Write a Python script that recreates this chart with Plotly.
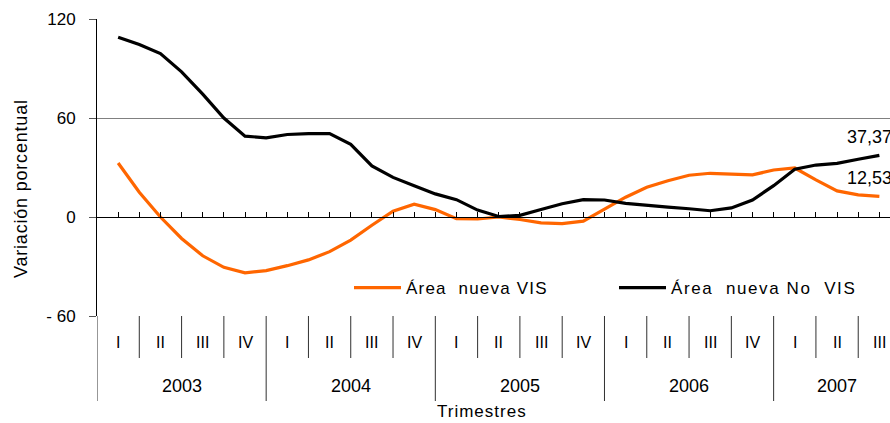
import numpy as np
import plotly.graph_objects as go

# ---- data (half-quarter steps, 2003-I .. 2007-III) ----
years = ["2003", "2004", "2005", "2006", "2007"]
quarters = ["I", "II", "III", "IV"] * 4 + ["I", "II", "III"]
x_pos = [i * 0.5 for i in range(37)]

vis = [32.7, 15.0, 0.0, -13.0, -23.5, -30.5, -33.8, -32.5, -29.5, -26.0,
       -21.0, -14.0, -5.0, 3.5, 7.8, 4.5, -1.0, -1.2, 0.0, -1.5,
       -3.5, -4.0, -2.5, 4.5, 12.0, 18.0, 22.0, 25.3, 26.5, 26.0,
       25.5, 28.5, 29.7, 22.5, 15.8, 13.4, 12.53]
no_vis = [109.0, 104.5, 99.0, 88.0, 74.5, 60.0, 49.0, 48.0, 50.0, 50.5,
          50.5, 44.0, 31.0, 24.0, 19.0, 14.0, 10.5, 4.2, 0.3, 1.0,
          4.5, 8.0, 10.5, 10.3, 8.3, 7.0, 6.0, 5.0, 3.8, 5.5,
          10.3, 19.0, 29.0, 31.5, 32.5, 35.0, 37.37]

ORANGE = "#FF6600"
BLACK = "#000000"
FONT = "Liberation Sans, Arial, sans-serif"

def spaced(txt, ls):
    return f'<span style="letter-spacing:{ls}px">{txt}</span>'

fig = go.Figure()
fig.add_trace(go.Scatter(x=x_pos, y=vis, mode="lines",
                         name=spaced("Área  nueva VIS", 1.2),
                         line=dict(color=ORANGE, width=3.2), legend="legend", showlegend=True))
fig.add_trace(go.Scatter(x=x_pos, y=no_vis, mode="lines",
                         name=spaced("Área  nueva No  VIS", 1.6),
                         line=dict(color=BLACK, width=3.2), legend="legend2", showlegend=True))

W, H = 890, 423
L, T, B = 97, 19, 423 - 316
plot_w, plot_h = W - L, H - T - B

def px(p):  # pixel x -> paper
    return (p - L) / plot_w

def py(p):  # pixel y -> paper
    return (H - B - p) / plot_h

shapes = []
n_q = len(quarters)
for k in range(n_q - 1):
    b = k + 0.5
    is_year = (k + 1) % 4 == 0
    shapes.append(dict(type="line", xref="x", yref="paper", x0=b, x1=b,
                       y0=0, y1=py(401) if is_year else py(358),
                       line=dict(color="#303030", width=1)))
shapes.append(dict(type="line", xref="x", yref="paper", x0=-0.5, x1=-0.5,
                   y0=0, y1=py(401), line=dict(color="#303030", width=1)))

annotations = []
for k, q in enumerate(quarters):
    annotations.append(dict(x=k, y=py(342), xref="x", yref="paper", text=q,
                            showarrow=False, font=dict(size=16, color=BLACK, family=FONT),
                            yanchor="middle"))
for j, yname in enumerate(years):
    start = 4 * j
    end = min(4 * j + 3, n_q - 1)
    annotations.append(dict(x=(start + end) / 2, y=py(386), xref="x", yref="paper",
                            text=yname, showarrow=False, yanchor="middle",
                            font=dict(size=18, color=BLACK, family=FONT)))
annotations.append(dict(x=px(482), y=py(411), xref="paper", yref="paper",
                        text=spaced("Trimestres", 1.0),
                        showarrow=False, yanchor="middle",
                        font=dict(size=17, color=BLACK, family=FONT)))
annotations.append(dict(x=px(21), y=py(189), xref="paper", yref="paper",
                        text=spaced("Variación porcentual", 0.8), textangle=-90,
                        showarrow=False, xanchor="center", yanchor="middle",
                        font=dict(size=18, color=BLACK, family=FONT)))
for series in (no_vis, vis):
    annotations.append(dict(x=x_pos[-1], y=series[-1], xref="x", yref="y",
                            text=f"{series[-1]:.2f}".replace(".", ","),
                            showarrow=False, xanchor="left", yanchor="middle",
                            xshift=-34, yshift=18,
                            font=dict(size=18, color=BLACK, family=FONT)))

fig.update_layout(
    width=W, height=H,
    margin=dict(l=L, r=0, t=T, b=B, pad=0),
    plot_bgcolor="white", paper_bgcolor="white",
    showlegend=True,
    font=dict(family=FONT, color=BLACK, size=16),
    xaxis=dict(range=[-0.5, -0.5 + plot_w / 42.29], anchor="free", position=1 / 3,
               showline=True, linecolor=BLACK, linewidth=1,
               ticks="inside", ticklen=5, tickcolor=BLACK, tick0=0, dtick=0.5,
               showticklabels=False, showgrid=False, zeroline=False),
    yaxis=dict(range=[-60, 120], tickvals=[-60, 0, 60, 120],
               ticktext=["- 60", "0", "60", "120"],
               showline=True, linecolor=BLACK, linewidth=1,
               ticks="outside", ticklen=7, tickcolor="#555555",
               showgrid=True, gridcolor="#808080", gridwidth=1, zeroline=False,
               tickfont=dict(size=17, color=BLACK, family=FONT),
               ticklabelstandoff=10),
    legend=dict(orientation="h", x=px(349), y=py(288), xanchor="left", yanchor="middle",
                itemwidth=47,
                font=dict(size=17, color=BLACK, family=FONT), bgcolor="rgba(0,0,0,0)"),
    legend2=dict(orientation="h", x=px(614), y=py(288), xanchor="left", yanchor="middle",
                 itemwidth=47,
                 font=dict(size=17, color=BLACK, family=FONT), bgcolor="rgba(0,0,0,0)"),
    shapes=shapes,
    annotations=annotations,
)

fig.write_html(
    "out.html",
    config={"displayModeBar": False},
    post_script="document.body.style.margin='0';document.body.style.overflow='hidden';",
)
